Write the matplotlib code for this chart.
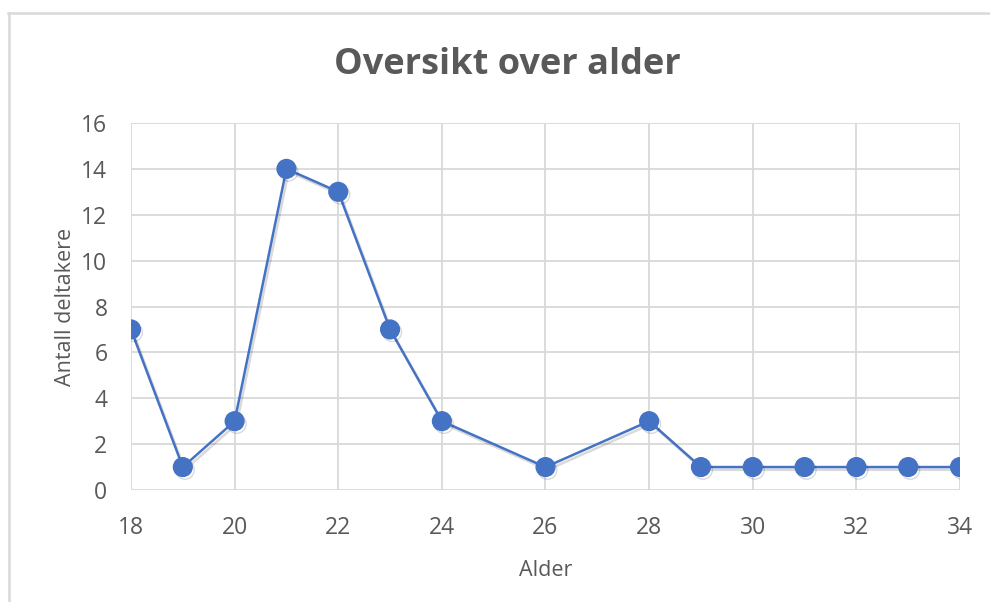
import matplotlib.pyplot as plt
import matplotlib.patheffects as pe
from matplotlib.lines import Line2D

alder = [18, 19, 20, 21, 22, 23, 24, 26, 28, 29, 30, 31, 32, 33, 34]
antall = [7, 1, 3, 14, 13, 7, 3, 1, 3, 1, 1, 1, 1, 1, 1]
x_ticks = list(range(18, 35, 2))
y_ticks = list(range(0, 17, 2))

plt.rcParams['font.family'] = ['Open Sans', 'DejaVu Sans']
tekst = '#595959'
blaa = '#4472C4'
grid = '#D9D9D9'

fig = plt.figure(figsize=(9.9, 6.02), dpi=100)
ax = fig.add_axes([131 / 990, 1 - 490 / 602, 829 / 990, 367 / 602])

# ramme rundt diagrammet (bare topp og venstre synlig)
fig.add_artist(Line2D([8 / 990, 1], [1 - 13 / 602] * 2, color=grid, lw=1.8,
                      transform=fig.transFigure))
fig.add_artist(Line2D([9 / 990] * 2, [0, 1 - 13 / 602], color=grid, lw=1.8,
                      transform=fig.transFigure))

ax.plot(alder, antall, color=blaa, lw=1.8, marker='o', markersize=13.5,
        markerfacecolor=blaa, markeredgecolor=blaa, zorder=3,
        path_effects=[pe.SimpleLineShadow(offset=(1.5, -2), alpha=0.15),
                      pe.Normal()])

ax.set_xlim(18, 34)
ax.set_ylim(0, 16)
ax.set_xticks(x_ticks)
ax.set_yticks(y_ticks)
ax.grid(True, color=grid, lw=1.3)
ax.set_axisbelow(True)
for s in ax.spines.values():
    s.set_visible(False)
ax.tick_params(length=0, labelsize=16.5, labelcolor=tekst)
ax.tick_params(axis='x', pad=19)
ax.tick_params(axis='y', pad=17)

ax.set_xlabel('Alder', fontsize=15.5, color=tekst, labelpad=14)
ax.set_ylabel('Antall deltakere', fontsize=15.5, color=tekst, labelpad=4)
fig.text(507 / 990, 1 - 65 / 602, 'Oversikt over alder', ha='center',
         va='center', fontsize=26, fontweight='bold', color=tekst)

fig.savefig('out.png', dpi=100)
